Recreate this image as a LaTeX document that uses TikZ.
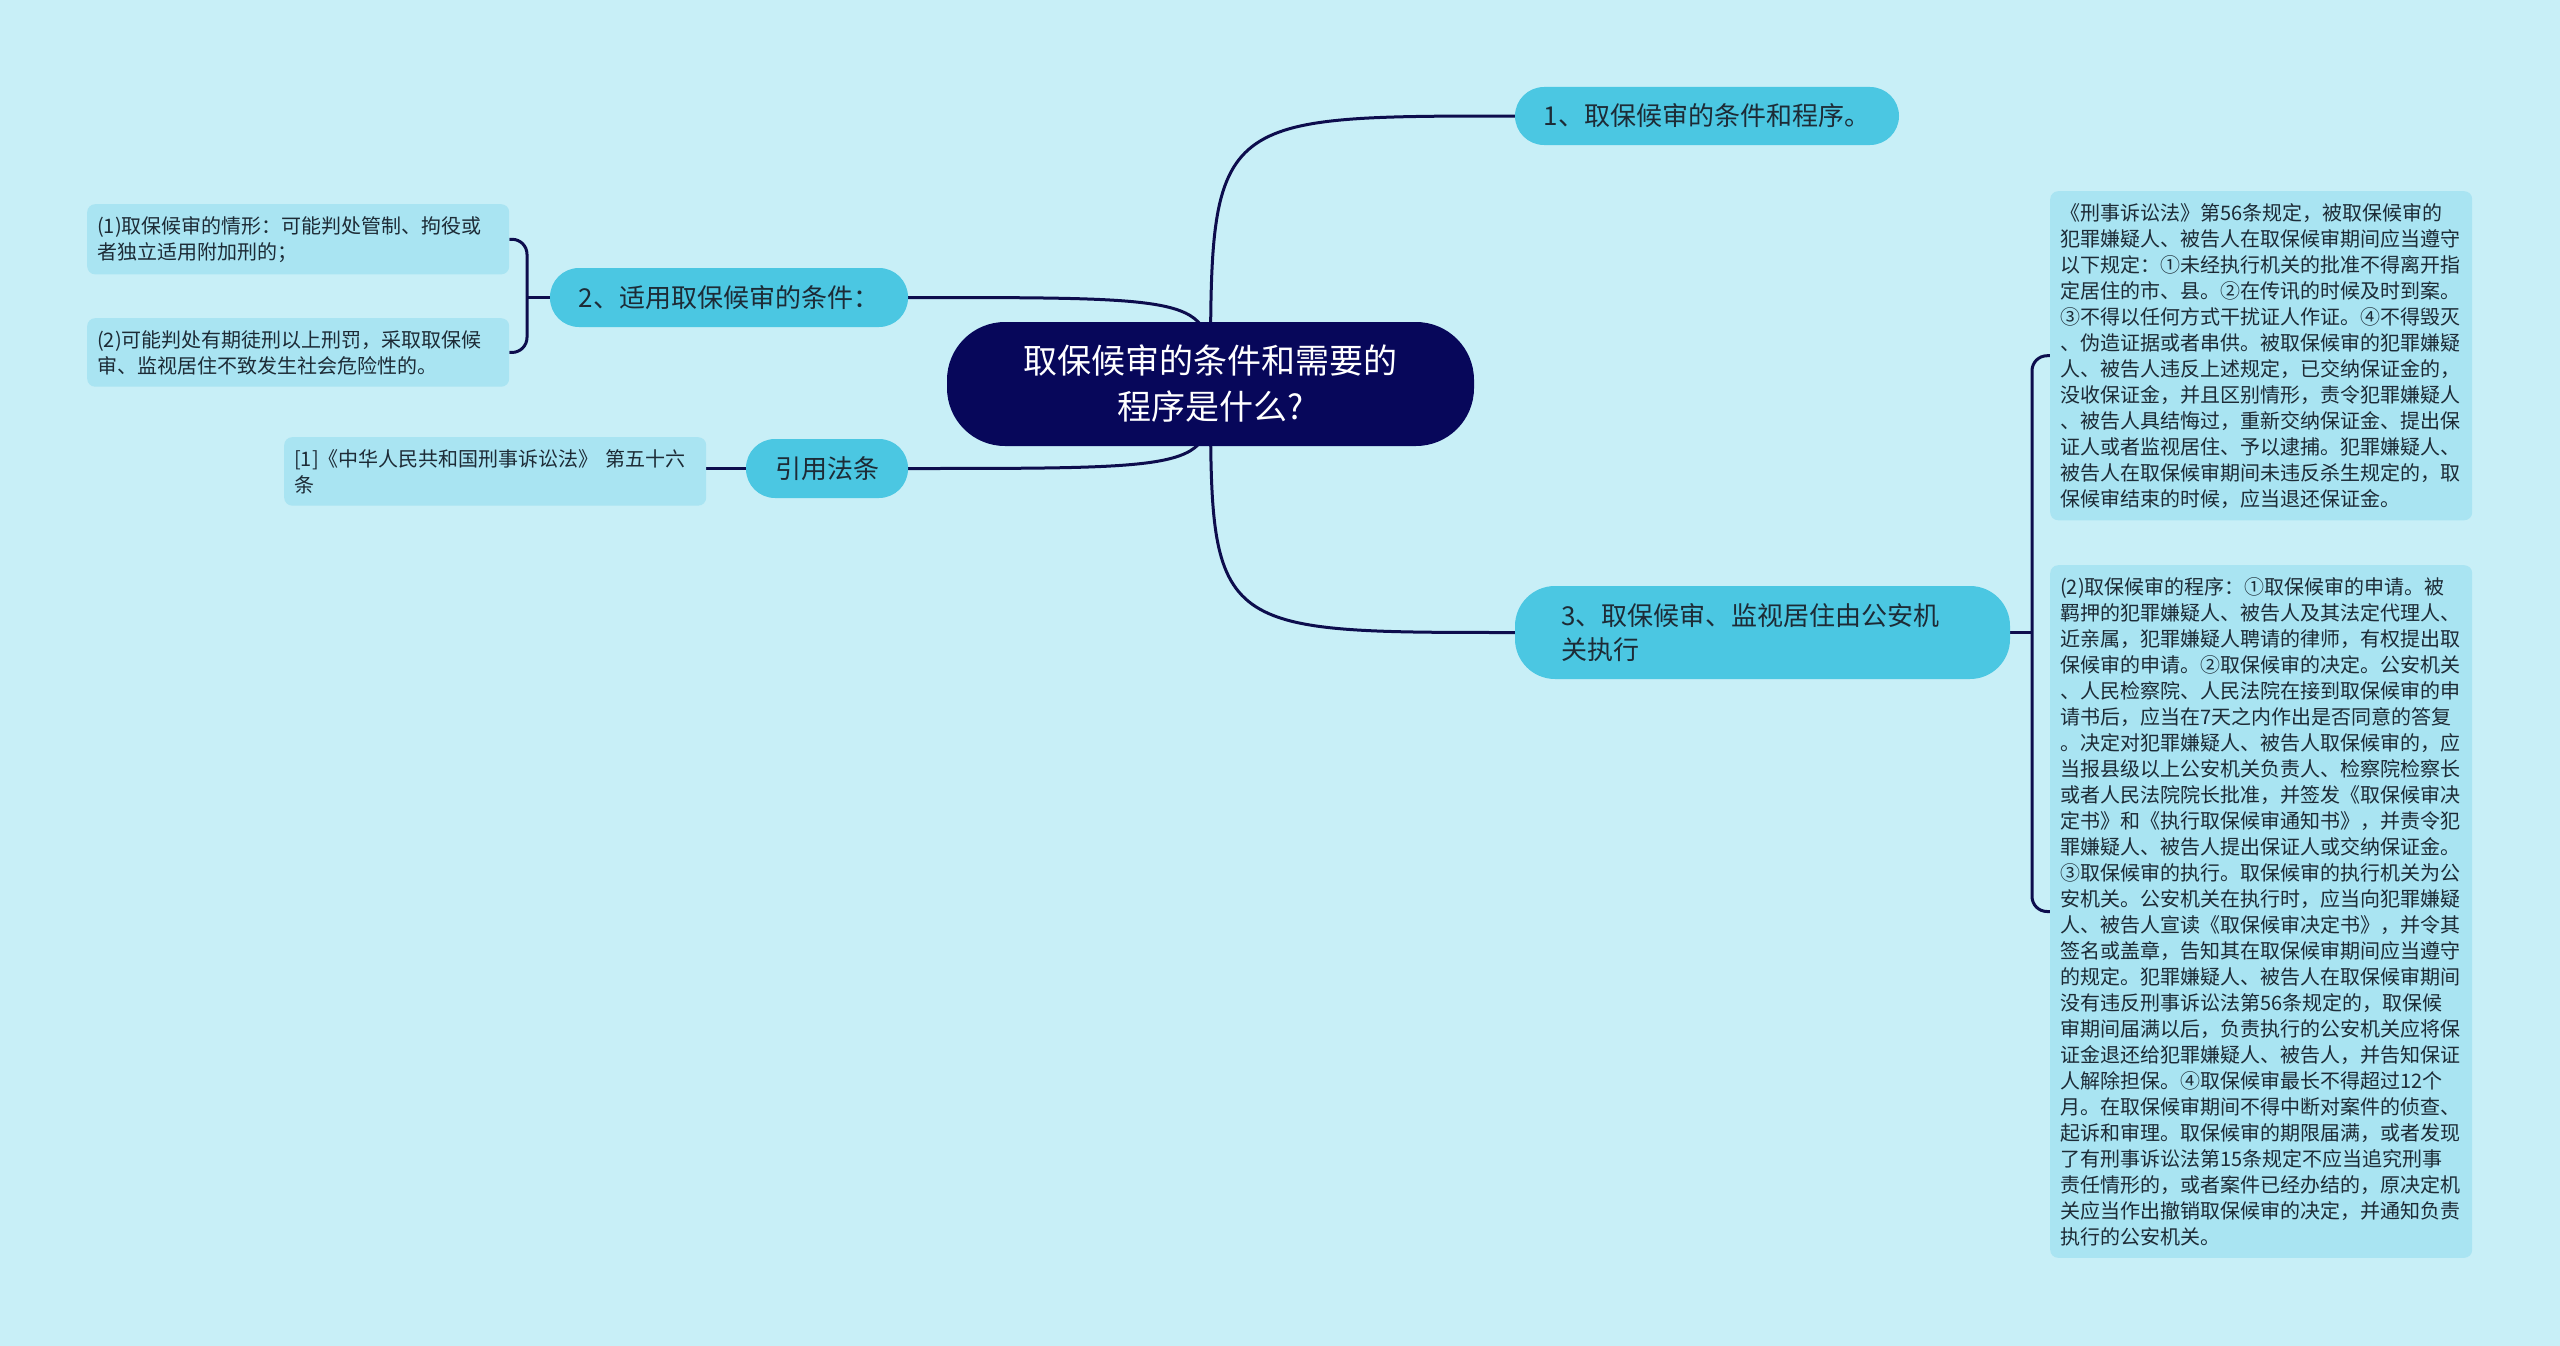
\documentclass[tikz,border=0pt]{standalone}
\usepackage{fontspec}
\setmainfont{Noto Sans CJK SC}
\usetikzlibrary{backgrounds}
\definecolor{bgc}{HTML}{C8EFF7}
\definecolor{leafc}{HTML}{A9E4F2}
\definecolor{mainc}{HTML}{4BC7E2}
\definecolor{navy}{HTML}{07075A}
\definecolor{linec}{HTML}{0D0D4D}
\definecolor{txtc}{HTML}{1D2B36}
\begin{document}
\begin{tikzpicture}[x=1pt,y=-1pt,
  mainbox/.style={fill=mainc, text=txtc, rounded corners=29pt, inner sep=0pt, font=\fontsize{26pt}{34pt}\selectfont},
  leafbox/.style={fill=leafc, text=txtc, rounded corners=8pt, anchor=north west, inner xsep=10pt, inner ysep=12pt, text width=402pt, align=left, font=\fontsize{20pt}{26pt}\selectfont},
  conn/.style={draw=linec, line width=3pt}]
\useasboundingbox (0,0) rectangle (2560,1346);

\node[fill=navy, text=white, rounded corners=58pt, minimum width=527pt, minimum height=124pt, align=center, inner sep=0pt, font=\fontsize{34pt}{46pt}\selectfont] (c) at (1210.5,384) {取保候审的条件和需要的\\程序是什么?};

\node[mainbox, minimum width=384pt, minimum height=58pt] (n1) at (1707,116) {1、取保候审的条件和程序。};
\node[mainbox, minimum width=358pt, minimum height=59pt] (n2) at (729,297.5) {2、适用取保候审的条件：};
\node[mainbox, minimum width=162pt, minimum height=59pt] (n4) at (827,468.5) {引用法条};
\node[mainbox, rounded corners=40pt, minimum width=495pt, minimum height=93pt, text width=403pt, align=left, inner xsep=46pt] (n3) at (1762.5,632.5) {3、取保候审、监视居住由公安机\\关执行};

\node[leafbox] (l1) at (87,204) {(1)取保候审的情形：可能判处管制、拘役或\\者独立适用附加刑的；};
\node[leafbox] (l2) at (87,318) {(2)可能判处有期徒刑以上刑罚，采取取保候\\审、监视居住不致发生社会危险性的。};
\node[leafbox] (cite) at (284,437) {[1]《中华人民共和国刑事诉讼法》 第五十六\\条};

\node[leafbox] (r1) at (2050,191) {《刑事诉讼法》第56条规定，被取保候审的\\犯罪嫌疑人、被告人在取保候审期间应当遵守\\以下规定：①未经执行机关的批准不得离开指\\定居住的市、县。②在传讯的时候及时到案。\\③不得以任何方式干扰证人作证。④不得毁灭\\、伪造证据或者串供。被取保候审的犯罪嫌疑\\人、被告人违反上述规定，已交纳保证金的，\\没收保证金，并且区别情形，责令犯罪嫌疑人\\、被告人具结悔过，重新交纳保证金、提出保\\证人或者监视居住、予以逮捕。犯罪嫌疑人、\\被告人在取保候审期间未违反杀生规定的，取\\保候审结束的时候，应当退还保证金。};

\node[leafbox] (r2) at (2050,565) {(2)取保候审的程序：①取保候审的申请。被\\羁押的犯罪嫌疑人、被告人及其法定代理人、\\近亲属，犯罪嫌疑人聘请的律师，有权提出取\\保候审的申请。②取保候审的决定。公安机关\\、人民检察院、人民法院在接到取保候审的申\\请书后，应当在7天之内作出是否同意的答复\\。决定对犯罪嫌疑人、被告人取保候审的，应\\当报县级以上公安机关负责人、检察院检察长\\或者人民法院院长批准，并签发《取保候审决\\定书》和《执行取保候审通知书》，并责令犯\\罪嫌疑人、被告人提出保证人或交纳保证金。\\③取保候审的执行。取保候审的执行机关为公\\安机关。公安机关在执行时，应当向犯罪嫌疑\\人、被告人宣读《取保候审决定书》，并令其\\签名或盖章，告知其在取保候审期间应当遵守\\的规定。犯罪嫌疑人、被告人在取保候审期间\\没有违反刑事诉讼法第56条规定的，取保候\\审期间届满以后，负责执行的公安机关应将保\\证金退还给犯罪嫌疑人、被告人，并告知保证\\人解除担保。④取保候审最长不得超过12个\\月。在取保候审期间不得中断对案件的侦查、\\起诉和审理。取保候审的期限届满，或者发现\\了有刑事诉讼法第15条规定不应当追究刑事\\责任情形的，或者案件已经办结的，原决定机\\关应当作出撤销取保候审的决定，并通知负责\\执行的公安机关。};

\coordinate (bl) at (527,297.5);
\coordinate (br) at (2032,632.5);

\begin{pgfonlayer}{background}
\fill[bgc] (0,0) rectangle (2560,1346);
\draw[conn] (c.center) .. controls (c.center |- n1.west) .. (n1.west);
\draw[conn] (c.center) .. controls (c.center |- n3.west) .. (n3.west);
\draw[conn] (c.center) .. controls (c.center |- n2.east) .. (n2.east);
\draw[conn] (c.center) .. controls (c.center |- n4.east) .. (n4.east);
\draw[conn] (n4.west) -- (n4.west -| cite.east);
\draw[conn, rounded corners=15pt] (l1.east) -| (bl) |- (l2.east);
\draw[conn] (bl) -- (n2.west);
\draw[conn, rounded corners=15pt] (r1.west) -| (br) |- (r2.west);
\draw[conn] (n3.east) -- (br);
\end{pgfonlayer}
\end{tikzpicture}
\end{document}
